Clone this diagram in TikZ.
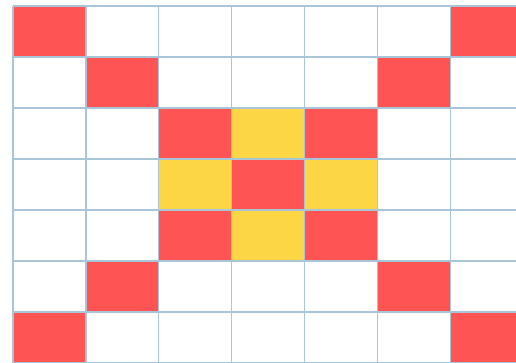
\documentclass[tikz,border=0pt]{standalone}
\usepackage{tikz}
\definecolor{gridRed}{HTML}{FF5454}
\definecolor{gridYellow}{HTML}{FDD645}
\definecolor{gridLine}{HTML}{A9C6D9}
\tikzset{
  redCell/.style={fill=gridRed},
  yellowCell/.style={fill=gridYellow},
  gridRule/.style={draw=gridLine, line width=1.3pt}
}

\begin{document}
\begin{tikzpicture}[x=1pt, y=-1pt]
  \useasboundingbox (0,0) rectangle (516,363);
  \clip (0,0) rectangle (516,363);

  % red cells on the two diagonals
  \foreach \c/\r in {0/0,6/0,1/1,5/1,2/2,4/2,3/3,2/4,4/4,1/5,5/5,0/6,6/6} {
    \fill[redCell] ({13+72.9*\c},{6+51*\r}) rectangle ++(72.9,51);
  }
  % yellow cells round the centre
  \foreach \c/\r in {3/2,2/3,4/3,3/4} {
    \fill[yellowCell] ({13+72.9*\c},{6+51*\r}) rectangle ++(72.9,51);
  }

  \foreach \c in {0,...,7} {
    \draw[gridRule] ({13+72.9*\c},6) -- ({13+72.9*\c},363);
  }
  \foreach \r in {0,...,7} {
    \draw[gridRule] (13,{6+51*\r}) -- (530,{6+51*\r});
  }
\end{tikzpicture}
\end{document}
